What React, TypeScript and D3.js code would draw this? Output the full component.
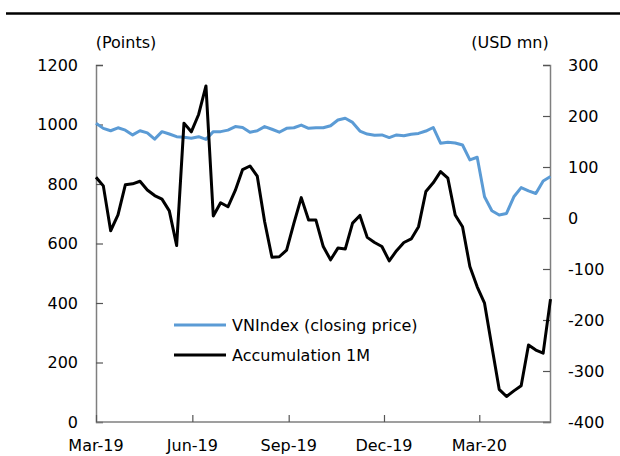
import React, { useEffect, useRef } from "react";
import * as d3 from "d3";

const firstWeek = new Date(2019, 2, 1);

const vnIndex = [
  1004, 987, 979, 989, 981, 965, 979, 972, 951, 976, 968, 959, 957, 954, 959, 950,
  976, 976, 981, 993, 990, 974, 979, 993, 984, 974, 987, 989, 998, 987, 989, 989,
  996, 1015, 1021, 1007, 978, 968, 964, 965, 956, 965, 962, 967, 970, 978, 990,
  937, 940, 938, 931, 881, 890, 757, 710, 696, 701, 757, 788, 777, 768, 810, 825,
];

const accumulation1M = [
  80, 63, -25, 6, 65, 67, 72, 55, 44, 37, 14, -54, 186, 169, 203, 259,
  4, 30, 22, 54, 95, 102, 82, -7, -77, -76, -63, -10, 40, -4, -4, -56,
  -82, -59, -61, -10, 5, -38, -48, -56, -84, -64, -48, -41, -17, 52, 69,
  91, 78, 6, -17, -95, -135, -167, -252, -336, -350, -339, -329, -249, -259, -265, -159,
];

const xTickDates = [
  new Date(2019, 2, 1),
  new Date(2019, 5, 1),
  new Date(2019, 8, 1),
  new Date(2019, 11, 1),
  new Date(2020, 2, 1),
];
const xTickLabels = ["Mar-19", "Jun-19", "Sep-19", "Dec-19", "Mar-20"];
const leftTicks = [0, 200, 400, 600, 800, 1000, 1200];
const rightTicks = [-400, -300, -200, -100, 0, 100, 200, 300];

const seriesNames = ["VNIndex (closing price)", "Accumulation 1M"];
const seriesColors = ["#5b9bd5", "#000000"];

const WIDTH = 620;
const HEIGHT = 456;
const FONT = "'DejaVu Sans', Verdana, sans-serif";

export default function App() {
  const svgRef = useRef<SVGSVGElement>(null);

  useEffect(() => {
    if (!svgRef.current) return;
    const svg = d3.select(svgRef.current);
    svg.selectAll("*").remove();

    const dates = vnIndex.map((_, i) => d3.timeDay.offset(firstWeek, 7 * i));
    const margin = { left: 96, right: 70, top: 65, bottom: 34 };
    const x = d3
      .scaleTime()
      .domain([dates[0], dates[dates.length - 1]])
      .range([margin.left, WIDTH - margin.right + 0.5]);
    const yLeft = d3
      .scaleLinear()
      .domain([0, 1200])
      .range([HEIGHT - margin.bottom, margin.top]);
    const yRight = d3
      .scaleLinear()
      .domain([-400, 300])
      .range([HEIGHT - margin.bottom, margin.top]);

    // rule at the top of the page
    svg
      .append("line")
      .attr("x1", 6)
      .attr("x2", WIDTH)
      .attr("y1", 13.5)
      .attr("y2", 13.5)
      .attr("stroke", "#000")
      .attr("stroke-width", 2.5);

    const axisColor = "#7f7f7f";
    const tickLen = 7;

    // left axis
    const left = svg.append("g").attr("transform", `translate(${margin.left},0)`);
    left
      .call(d3.axisRight(yLeft).tickValues(leftTicks).tickSize(tickLen).tickFormat(() => "") as any)
      .call((g) => g.select(".domain").attr("stroke", axisColor).attr("stroke-width", 1.5))
      .call((g) => g.selectAll(".tick line").attr("stroke", "#555").attr("stroke-width", 1.2));
    svg
      .append("g")
      .selectAll("text")
      .data(leftTicks)
      .join("text")
      .attr("x", 78)
      .attr("y", (d) => yLeft(d))
      .attr("dy", "0.36em")
      .attr("text-anchor", "end")
      .text((d) => String(d));

    // right axis
    const right = svg
      .append("g")
      .attr("transform", `translate(${WIDTH - margin.right},0)`);
    right
      .call(d3.axisLeft(yRight).tickValues(rightTicks).tickSize(tickLen).tickFormat(() => "") as any)
      .call((g) => g.select(".domain").attr("stroke", axisColor).attr("stroke-width", 1.5))
      .call((g) => g.selectAll(".tick line").attr("stroke", "#555").attr("stroke-width", 1.2));
    svg
      .append("g")
      .selectAll("text")
      .data(rightTicks)
      .join("text")
      .attr("x", 568)
      .attr("y", (d) => yRight(d))
      .attr("dy", "0.36em")
      .attr("text-anchor", "start")
      .text((d) => String(d));

    // bottom axis
    const bottom = svg
      .append("g")
      .attr("transform", `translate(0,${HEIGHT - margin.bottom})`);
    bottom
      .call(d3.axisTop(x).tickValues(xTickDates).tickSize(tickLen).tickFormat(() => "") as any)
      .call((g) =>
        g
          .select(".domain")
          .attr("d", `M${margin.left},0H${WIDTH - margin.right}`)
          .attr("stroke", axisColor)
          .attr("stroke-width", 1.5)
      )
      .call((g) => g.selectAll(".tick line").attr("stroke", "#555").attr("stroke-width", 1.2));
    svg
      .append("g")
      .selectAll("text")
      .data(xTickDates)
      .join("text")
      .attr("x", (d) => x(d))
      .attr("y", 451)
      .attr("text-anchor", "middle")
      .text((_, i) => xTickLabels[i]);

    // axis titles
    svg.append("text").attr("x", 126).attr("y", 48).attr("text-anchor", "middle").text("(Points)");
    svg.append("text").attr("x", 510).attr("y", 48).attr("text-anchor", "middle").text("(USD mn)");

    // series
    const lineLeft = d3
      .line<number>()
      .x((_, i) => x(dates[i]))
      .y((d) => yLeft(d));
    const lineRight = d3
      .line<number>()
      .x((_, i) => x(dates[i]))
      .y((d) => yRight(d));

    svg
      .append("path")
      .attr("d", lineLeft(vnIndex) || "")
      .attr("fill", "none")
      .attr("stroke", seriesColors[0])
      .attr("stroke-width", 3)
      .attr("stroke-linejoin", "round");
    svg
      .append("path")
      .attr("d", lineRight(accumulation1M) || "")
      .attr("fill", "none")
      .attr("stroke", seriesColors[1])
      .attr("stroke-width", 3)
      .attr("stroke-linejoin", "round");

    // legend
    const legend = svg.append("g");
    seriesNames.forEach((name, i) => {
      const ly = 325 + i * 30;
      legend
        .append("line")
        .attr("x1", 174)
        .attr("x2", 226)
        .attr("y1", ly)
        .attr("y2", ly)
        .attr("stroke", seriesColors[i])
        .attr("stroke-width", 3);
      legend
        .append("text")
        .attr("x", 232)
        .attr("y", ly)
        .attr("dy", "0.36em")
        .text(name);
    });

    svg.selectAll("text").attr("font-family", FONT).attr("font-size", 16).attr("fill", "#000");
  }, []);

  return (
    <svg
      ref={svgRef}
      width={WIDTH}
      height={HEIGHT}
      style={{ position: "absolute", left: 0, top: 0, background: "#fff" }}
    />
  );
}
